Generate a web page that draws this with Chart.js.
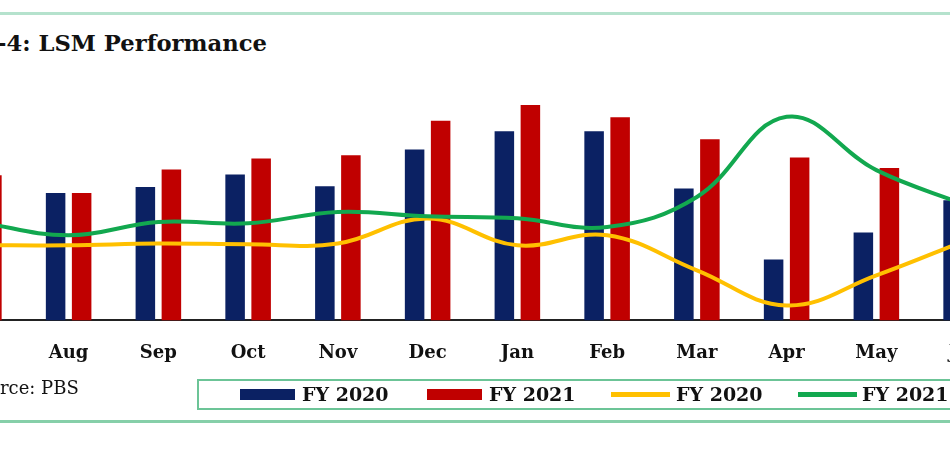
<!DOCTYPE html>
<html>
<head>
<meta charset="utf-8">
<script src="https://cdn.jsdelivr.net/npm/chart.js@4.4.1/dist/chart.umd.min.js"></script>
<style>
  html, body { margin:0; padding:0; background:#fff; width:950px; height:450px; overflow:hidden; position:relative; }
  .topline { position:absolute; left:0; top:12px; width:950px; height:3px; background:#b5e2cd; }
  .botline { position:absolute; left:0; top:420px; width:950px; height:3px; background:#86cfa9; }
  .title { position:absolute; left:-3px; top:30px; font-family:"DejaVu Serif", serif; font-weight:bold; font-size:22.7px; color:#111; white-space:nowrap; }
  .source { position:absolute; left:0; top:377px; font-family:"DejaVu Serif", serif; font-size:18px; color:#111; white-space:nowrap; }
  #wrap { position:absolute; left:-66px; top:0; width:1077px; height:386px; }
  .legend { position:absolute; left:197px; top:379px; width:800px; height:27px; border:2px solid #6cc497; }
  .li { position:absolute; top:0; height:27px; font-family:"DejaVu Serif", serif; font-weight:bold; font-size:19px; color:#111; white-space:nowrap; line-height:27px; }
  .sw { position:absolute; }
</style>
</head>
<body>
<div class="topline"></div>
<div class="title">-4: LSM Performance</div>
<div id="wrap"><canvas id="c"></canvas></div>
<div class="source">rce: PBS</div>
<div class="legend" id="legend"></div>
<div class="botline"></div>
<script>
const months = ["Jul","Aug","Sep","Oct","Nov","Dec","Jan","Feb","Mar","Apr","May","Jun"];
const lsmFY2020 = [112, 101.8, 106.6, 116.6, 107.2, 136.6, 151, 151, 105.4, 48.6, 70.2, 96];
const lsmFY2021 = [116, 101.8, 120.6, 129.4, 132, 159.4, 172, 162.2, 144.6, 130.2, 121.8, 130];
const growthFY2020 = [-15.5, -15.5, -14.7, -15, -14.7, -3.2, -15.5, -10.9, -27, -43.1, -29.3, -13.2];
const growthFY2021 = [-4.9, -10.9, -4.8, -5.4, -0.2, -2.2, -3.1, -7.1, 6.7, 43.5, 19, 2.9];
const seriesLabels = ["FY 2020", "FY 2021", "FY 2020", "FY 2021"];

const colBlue = "#0b2163", colRed = "#c00000", colYellow = "#ffc000", colGreen = "#12a84f";

const chart = new Chart(document.getElementById("c"), {
  data: {
    labels: months,
    datasets: [
      { type:"bar", label:seriesLabels[0], data:lsmFY2020, backgroundColor:colBlue, yAxisID:"y", order:2, categoryPercentage:0.58, barPercentage:0.75 },
      { type:"bar", label:seriesLabels[1], data:lsmFY2021, backgroundColor:colRed, yAxisID:"y", order:2, categoryPercentage:0.58, barPercentage:0.75 },
      { type:"line", label:seriesLabels[2], data:growthFY2020, borderColor:colYellow, backgroundColor:colYellow, borderWidth:4, pointRadius:0, tension:0.4, yAxisID:"y1", order:1 },
      { type:"line", label:seriesLabels[3], data:growthFY2021, borderColor:colGreen, backgroundColor:colGreen, borderWidth:4, pointRadius:0, tension:0.4, yAxisID:"y1", order:0 }
    ]
  },
  options: {
    responsive:true, maintainAspectRatio:false, animation:false,
    layout:{ padding:{ top:70, left:0, right:0, bottom:0 } },
    plugins:{ legend:{ display:false }, tooltip:{ enabled:false } },
    scales:{
      x:{ offset:true, grid:{ display:false, drawTicks:false }, border:{ display:true, color:"#222", width:2 },
          ticks:{ padding:22, color:"#111", font:{ family:"DejaVu Serif", weight:"bold", size:18 } } },
      y:{ display:false, min:0, max:200 },
      y1:{ display:false, min:-50, max:65 }
    }
  }
});

// HTML legend built from the datasets
const legendPos = [
  { sw:41, swW:55, txt:103 },
  { sw:228, swW:55, txt:290 },
  { sw:412, swW:59, txt:477 },
  { sw:599, swW:59, txt:663 }
];
const lg = document.getElementById("legend");
chart.data.datasets.forEach((ds, i) => {
  const p = legendPos[i];
  const s = document.createElement("div");
  s.className = "sw";
  const isBar = ds.type === "bar";
  s.style.left = p.sw + "px";
  s.style.width = p.swW + "px";
  s.style.top = isBar ? "8px" : "11px";
  s.style.height = isBar ? "11px" : "5px";
  s.style.background = isBar ? ds.backgroundColor : ds.borderColor;
  lg.appendChild(s);
  const t = document.createElement("div");
  t.className = "li";
  t.style.left = p.txt + "px";
  t.textContent = ds.label;
  lg.appendChild(t);
});
</script>
</body>
</html>
